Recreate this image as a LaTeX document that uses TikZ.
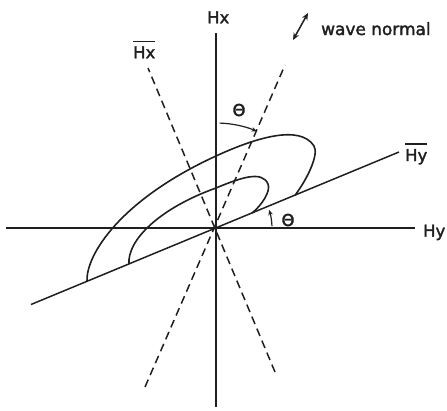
\documentclass[tikz,border=0pt]{standalone}
\usepackage{fontspec}
\setmainfont{DejaVu Sans}
\newfontfamily\lblfont{DejaVu Sans}[FakeBold=2]
\usetikzlibrary{arrows.meta}
\newcommand\ovl[1]{\vbox{\hrule height 1.5pt\kern 4.3pt\hbox{#1}}}
\begin{document}
\begin{tikzpicture}[x=1bp,y=-1bp,
  ax/.style={line width=1.5pt, draw=black!88},
  dsh/.style={line width=1.5pt, draw=black!88, dash pattern=on 8bp off 5bp},
  lbl/.style={inner sep=0pt, font=\lblfont\fontsize{16.5}{18}\selectfont, text=black!88},
  loopc/.style={line width=1.6pt, draw=black!88},
  ang/.style={line width=1.2pt, draw=black!88, -{Stealth[length=5.5bp,width=4.5bp]}},
  dbl/.style={line width=1.5pt, draw=black!88, {Stealth[length=7bp,width=6bp]}-{Stealth[length=7bp,width=6bp]}}]
\useasboundingbox (0,0) rectangle (447,410);
% coordinates
\coordinate (O) at (216,228);
\coordinate (hxT) at (216,33); \coordinate (hxB) at (216,407);
\coordinate (hyL) at (6,228); \coordinate (hyR) at (415,228);
\coordinate (byL) at (31,304.5); \coordinate (byR) at (399,152);
\coordinate (wnT) at (285,65); \coordinate (wnB) at (145,387);
\coordinate (bxT) at (148,68); \coordinate (bxB) at (275,372);
\coordinate (wa) at (293,40); \coordinate (wb) at (308,13);
% axes
\draw[ax] (hxT) -- (hxB);
\draw[ax] (hyL) -- (hyR);
\draw[ax] (byL) -- (byR);
\draw[dsh] (wnB) -- (wnT);
\draw[dsh] (bxB) -- (bxT);
% loops
\coordinate (oS) at (87,281); \coordinate (oE) at (295,195.3);
\coordinate (iS) at (129,264); \coordinate (iE) at (252,213.1);
\draw[loopc] (oS) .. controls (86,255) and (120,200) .. (216,156)
  .. controls (255,138) and (300,124) .. (314,146)
  .. controls (319,154) and (308,178) .. (oE);
\draw[loopc] (iS) .. controls (127,240) and (160,208) .. (216,188)
  .. controls (240,178) and (262,170) .. (268,184)
  .. controls (271,191) and (262,205) .. (iE);
% angle arcs
\draw[ang] (O) ++(-88:105) arc[start angle=-88, end angle=-67, radius=105];
\draw[ang] (O) ++(-2:56) arc[start angle=-2, end angle=-19, radius=56];
% wave normal arrow
\draw[dbl] (wa) -- (wb);
% labels
\node[lbl, anchor=base west] (lHx) at (207,23.3) {Hx};
\node[lbl, anchor=base west] (lHxb) at (133,58.3) {\ovl{Hx}};
\node[lbl, anchor=base west] (lHy) at (423,236.7) {Hy};
\node[lbl, anchor=base west] (lHyb) at (405,161) {\ovl{Hy}};
\node[lbl] (t1) at (239,110) {Θ};
\node[lbl] (t2) at (288,220) {Θ};
\node[lbl, anchor=base west, font=\lblfont\fontsize{17}{19}\selectfont] (lwn) at (321,35) {wave normal};
\end{tikzpicture}
\end{document}
